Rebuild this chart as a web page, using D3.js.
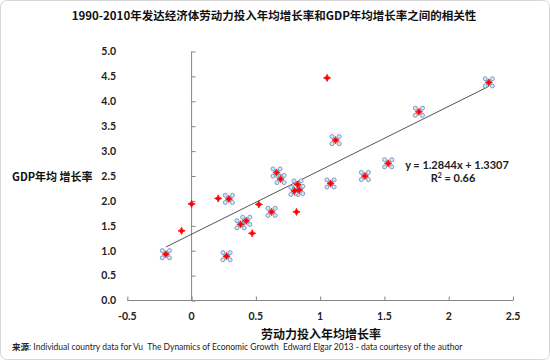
<!DOCTYPE html>
<html><head><meta charset="utf-8">
<script src="https://cdn.jsdelivr.net/npm/d3@7"></script>
<style>body{margin:0;background:#fff}svg{display:block}text{white-space:pre}</style>
</head><body>
<script>
// Data
const allX = [1.054, -0.078, 0.0, 0.207, 0.523, 0.816, 0.471,
              -0.20, 0.272, 0.29, 0.381, 0.425, 0.622, 0.661, 0.692, 0.824, 0.80, 0.837, 1.081, 1.12, 1.348, 1.529, 1.768, 2.312];
const allY = [4.47, 1.40, 1.94, 2.05, 1.93, 1.78, 1.35,
              0.93, 0.89, 2.04, 1.53, 1.60, 1.78, 2.57, 2.44, 2.33, 2.20, 2.22, 2.35, 3.22, 2.50, 2.755, 3.79, 4.38];
const fitX = [-0.20, 0.272, 0.29, 0.381, 0.425, 0.622, 0.661, 0.692, 0.824, 0.80, 0.837, 1.081, 1.12, 1.348, 1.529, 1.768, 2.312];
const fitY = [0.93, 0.89, 2.04, 1.53, 1.60, 1.78, 2.57, 2.44, 2.33, 2.20, 2.22, 2.35, 3.22, 2.50, 2.755, 3.79, 4.38];
const slope = 1.2844, intercept = 1.3307;
const xTicks = [-0.5, 0, 0.5, 1, 1.5, 2, 2.5];
const xTickLabels = ["-0.5", "0", "0.5", "1", "1.5", "2", "2.5"];
const yTicks = [0, 0.5, 1, 1.5, 2, 2.5, 3, 3.5, 4, 4.5, 5];
const yTickLabels = ["0.0","0.5","1.0","1.5","2.0","2.5","3.0","3.5","4.0","4.5","5.0"];
const title = "1990-2010年发达经济体劳动力投入年均增长率和GDP年均增长率之间的相关性";
const xTitle = "劳动力投入年均增长率";
const yTitle = "GDP年均 增长率";
const eqText = "y = 1.2844x + 1.3307";
const r2Text = "0.66";
const sourceLabel = "来源";
const sourceText = ": Individual country data for Vu  The Dynamics of Economic Growth  Edward Elgar 2013 - data courtesy of the author";

const W = 550, H = 360;
const svg = d3.select("body").append("svg").attr("width", W).attr("height", H);
const FONT = "Lato, 'Noto Sans CJK SC', sans-serif";

svg.append("rect").attr("x",0.5).attr("y",0.5).attr("width",W-1).attr("height",H-1)
  .attr("rx",6).attr("fill","#fff").attr("stroke","#d9d9d9");

const x = d3.scaleLinear().domain([-0.5, 2.5]).range([127.3, 513]);
const y = d3.scaleLinear().domain([0, 5]).range([300.5, 51.5]);

// x axis at y=0
const xAxis = d3.axisBottom(x).tickValues(xTicks).tickSize(-4).tickFormat("");
const gx = svg.append("g").attr("transform",`translate(0,${y(0)})`).call(xAxis);
gx.selectAll("path,line").attr("stroke","#868686");
gx.select(".domain").attr("d", `M${x(-0.5)},0H${x(2.5)}`);
// y axis at x=0
const yAxis = d3.axisRight(y).tickValues(yTicks).tickSize(4).tickFormat("");
const gy = svg.append("g").attr("transform",`translate(${x(0)},0)`).call(yAxis);
gy.selectAll("path,line").attr("stroke","#868686");
gy.select(".domain").attr("d", `M0,${y(0)}V${y(5)}`);

// tick labels
svg.append("g").selectAll("text").data(xTicks).join("text")
  .attr("x", d => x(d)).attr("y", 320).attr("text-anchor","middle")
  .attr("font-family", FONT).attr("font-weight","bold").attr("font-size",10.5).attr("fill","#222")
  .text((d,i) => xTickLabels[i]);
svg.append("g").selectAll("text").data(yTicks).join("text")
  .attr("x", 116).attr("y", d => y(d) + 3.8).attr("text-anchor","end")
  .attr("font-family", FONT).attr("font-weight","bold").attr("font-size",10.5).attr("fill","#222")
  .text((d,i) => yTickLabels[i]);

// titles
svg.append("text").attr("x",274).attr("y",20).attr("text-anchor","middle")
  .attr("font-family","'Noto Sans CJK SC', sans-serif").attr("font-weight","bold").attr("font-size",11.5)
  .attr("fill","#111").text(title);
svg.append("text").attr("x",321).attr("y",339).attr("text-anchor","middle")
  .attr("font-family","'Noto Sans CJK SC', sans-serif").attr("font-weight","bold").attr("font-size",12)
  .attr("fill","#111").text(xTitle);
svg.append("text").attr("x",12).attr("y",181)
  .attr("font-family","'Noto Sans CJK SC', sans-serif").attr("font-weight","bold").attr("font-size",11)
  .attr("fill","#111").text(yTitle);

// trendline
const line = d3.line().x(d => x(d)).y(d => y(slope*d + intercept));
svg.append("path").attr("d", line([d3.min(fitX), d3.max(fitX)]))
  .attr("stroke","#555").attr("stroke-width",1).attr("fill","none");

// blue x markers (fit series)
const blue = svg.append("g");
fitX.forEach((vx,i) => {
  const cx = x(vx), cy = y(fitY[i]);
  const g = blue.append("g").attr("transform",`translate(${cx},${cy})`);
  [[-4,-4],[4,-4],[-4,4],[4,4]].forEach(([dx,dy]) => {
    g.append("line").attr("x1",0).attr("y1",0).attr("x2",dx).attr("y2",dy)
      .attr("stroke","#a6bfdc").attr("stroke-width",2);
  });
  [[-3.6,-3.6],[3.6,-3.6],[-3.6,3.6],[3.6,3.6]].forEach(([dx,dy]) => {
    g.append("circle").attr("cx",dx).attr("cy",dy).attr("r",2)
      .attr("fill","#dce6f2").attr("stroke","#6f93c0").attr("stroke-width",0.9);
  });
});

// red diamonds (all)
svg.append("g").selectAll("path").data(allX).join("path")
  .attr("transform",(d,i) => `translate(${x(d)},${y(allY[i])})`)
  .attr("d", "M0,-3.6Q0.5,-0.5 3.6,0Q0.5,0.5 0,3.6Q-0.5,0.5 -3.6,0Q-0.5,-0.5 0,-3.6Z")
  .attr("fill","#ff0000").attr("stroke","#ff0000").attr("stroke-width",0.8);

// equation
svg.append("text").attr("x",457).attr("y",168.5).attr("text-anchor","middle")
  .attr("font-family", FONT).attr("font-weight","bold").attr("font-size",11).attr("fill","#222")
  .text(eqText);
const r2 = svg.append("text").attr("x",453).attr("y",182).attr("text-anchor","middle")
  .attr("font-family", FONT).attr("font-weight","bold").attr("font-size",11).attr("fill","#222");
r2.append("tspan").text("R");
r2.append("tspan").attr("dy",-4).attr("font-size",7).text("2");
r2.append("tspan").attr("dy",4).text(" = " + r2Text);

// source
const src = svg.append("text").attr("x",12).attr("y",350)
  .attr("font-family","'Noto Sans CJK SC', Lato, sans-serif").attr("font-size",8.5).attr("fill","#222");
src.append("tspan").attr("font-weight","bold").text(sourceLabel);
src.append("tspan").attr("font-family","Lato, sans-serif").text(sourceText);
</script>
</body></html>
